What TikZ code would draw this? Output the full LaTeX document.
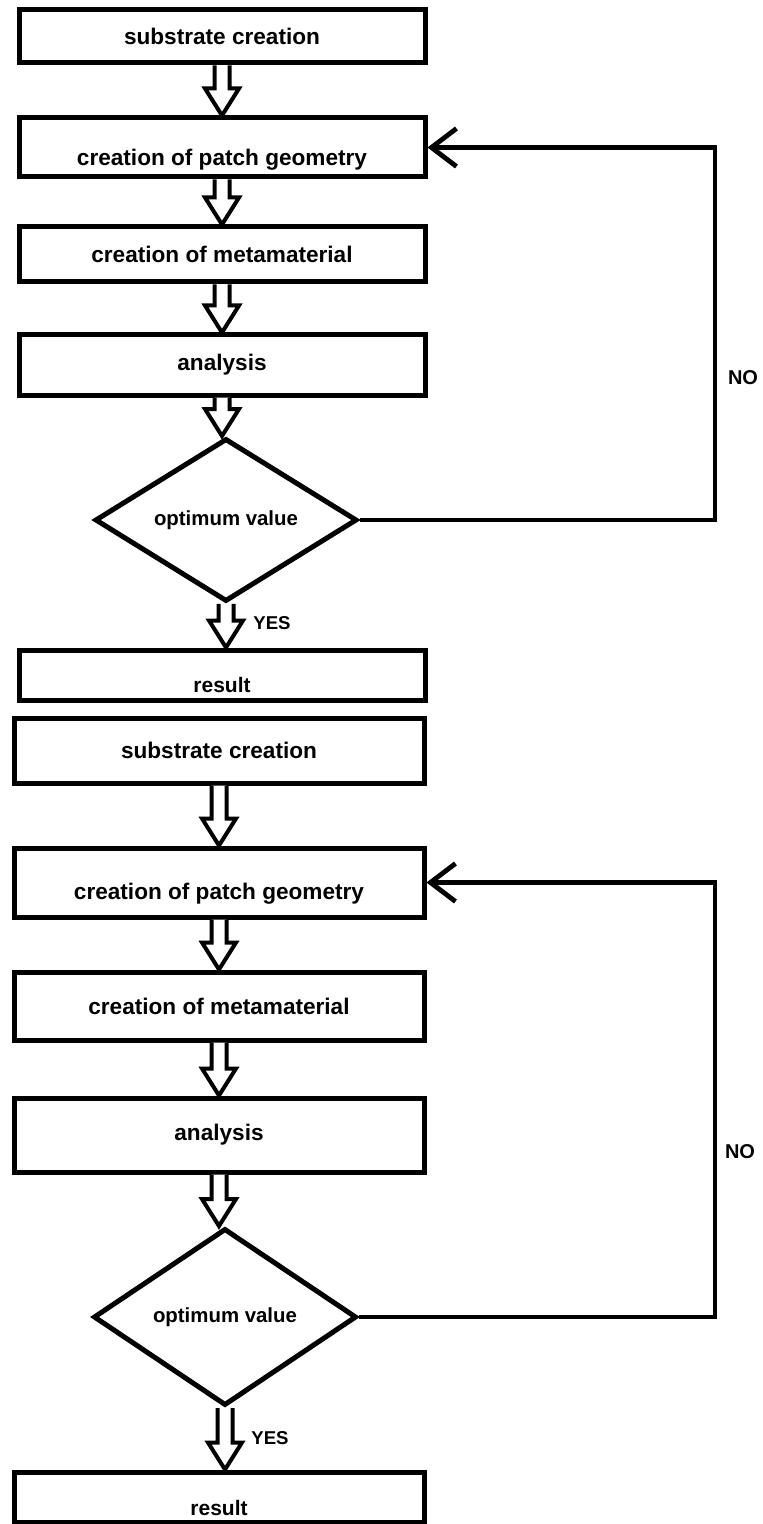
\documentclass[tikz,border=0pt]{standalone}
\usepackage{fontspec}
\setmainfont{Liberation Sans}
\usepackage{tikz}
\usetikzlibrary{shapes.geometric}
\usetikzlibrary{arrows.meta}
\usetikzlibrary{calc}

% hollow block arrow from one node down to the next
\newcommand{\fatarrow}[2]{%
  \draw[fat] ($(#1.south)+(-7.5,0)$) -- ($(#1.south |- #2.north)+(-7.5,-27)$)
    -- ++(-9.5,0) -- (#1.south |- #2.north) -- ++(17,-27) -- ++(-9.5,0)
    -- ($(#1.south)+(7.5,0)$);}

\begin{document}
\begin{tikzpicture}[x=0.5pt, y=-0.5pt,
    box/.style={draw, line width=2.5pt, inner sep=0pt, minimum width=203pt,
      font=\bfseries\fontsize{11.3}{13}\selectfont},
    wide/.style={box, minimum width=205pt},
    test/.style={draw, diamond, line width=2.5pt, inner sep=0pt,
      font=\bfseries\fontsize{10.2}{12}\selectfont},
    fat/.style={draw, fill=white, line width=2pt, line join=miter},
    back/.style={line width=2.4pt, -{Straight Barb[length=12.5pt, width=19pt]}},
    tag/.style={font=\bfseries\fontsize{9.3}{11}\selectfont}]
        \useasboundingbox (0,0) rectangle (763,1524);

        % first chart
        \node[box, minimum height=26.5pt] (sub1) at (222,36.5) {substrate creation};
        \node[box, minimum height=29.5pt, text height=20.7pt] (patch1) at (222,147.5) {creation of patch geometry};
        \node[box, minimum height=27.5pt] (meta1) at (222,254.5) {creation of metamaterial};
        \node[box, minimum height=30pt] (ana1) at (222,365) {analysis};
        \node[test, minimum width=131pt, minimum height=76pt] (opt1) at (226,520) {optimum value};
        \node[box, minimum height=25pt, text height=17.7pt, font=\bfseries\fontsize{10.5}{12}\selectfont] (res1) at (222,675) {result};

        \fatarrow{sub1}{patch1}
        \fatarrow{patch1}{meta1}
        \fatarrow{meta1}{ana1}
        \fatarrow{ana1}{opt1}
        \fatarrow{opt1}{res1}

        \coordinate (back1) at (715,520);
        \draw[back] (opt1.east) -- (back1) |- (patch1.east);
        \node[tag] (yes1) at (272,623) {YES};
        \node[tag, font=\bfseries\fontsize{10}{12}\selectfont] (no1) at (743,378) {NO};

        % second chart
        \node[wide, minimum height=32.5pt] (sub2) at (219,750.5) {substrate creation};
        \node[wide, minimum height=34.5pt, text height=19.2pt] (patch2) at (219,882.5) {creation of patch geometry};
        \node[wide, minimum height=34pt] (meta2) at (219,1006) {creation of metamaterial};
        \node[wide, minimum height=37pt] (ana2) at (219,1135) {analysis};
        \node[test, minimum width=131.5pt, minimum height=88.5pt] (opt2) at (225,1317) {optimum value};
        \node[wide, minimum height=25pt, text height=18.7pt, font=\bfseries\fontsize{10.5}{12}\selectfont] (res2) at (219,1497) {result};

        \fatarrow{sub2}{patch2}
        \fatarrow{patch2}{meta2}
        \fatarrow{meta2}{ana2}
        \fatarrow{ana2}{opt2}
        \fatarrow{opt2}{res2}

        \coordinate (back2) at (715,1317);
        \draw[back] (opt2.east) -- (back2) |- (patch2.east);
        \node[tag] (yes2) at (270,1438) {YES};
        \node[tag, font=\bfseries\fontsize{10}{12}\selectfont] (no2) at (740,1152) {NO};
      \end{tikzpicture}
\end{document}
